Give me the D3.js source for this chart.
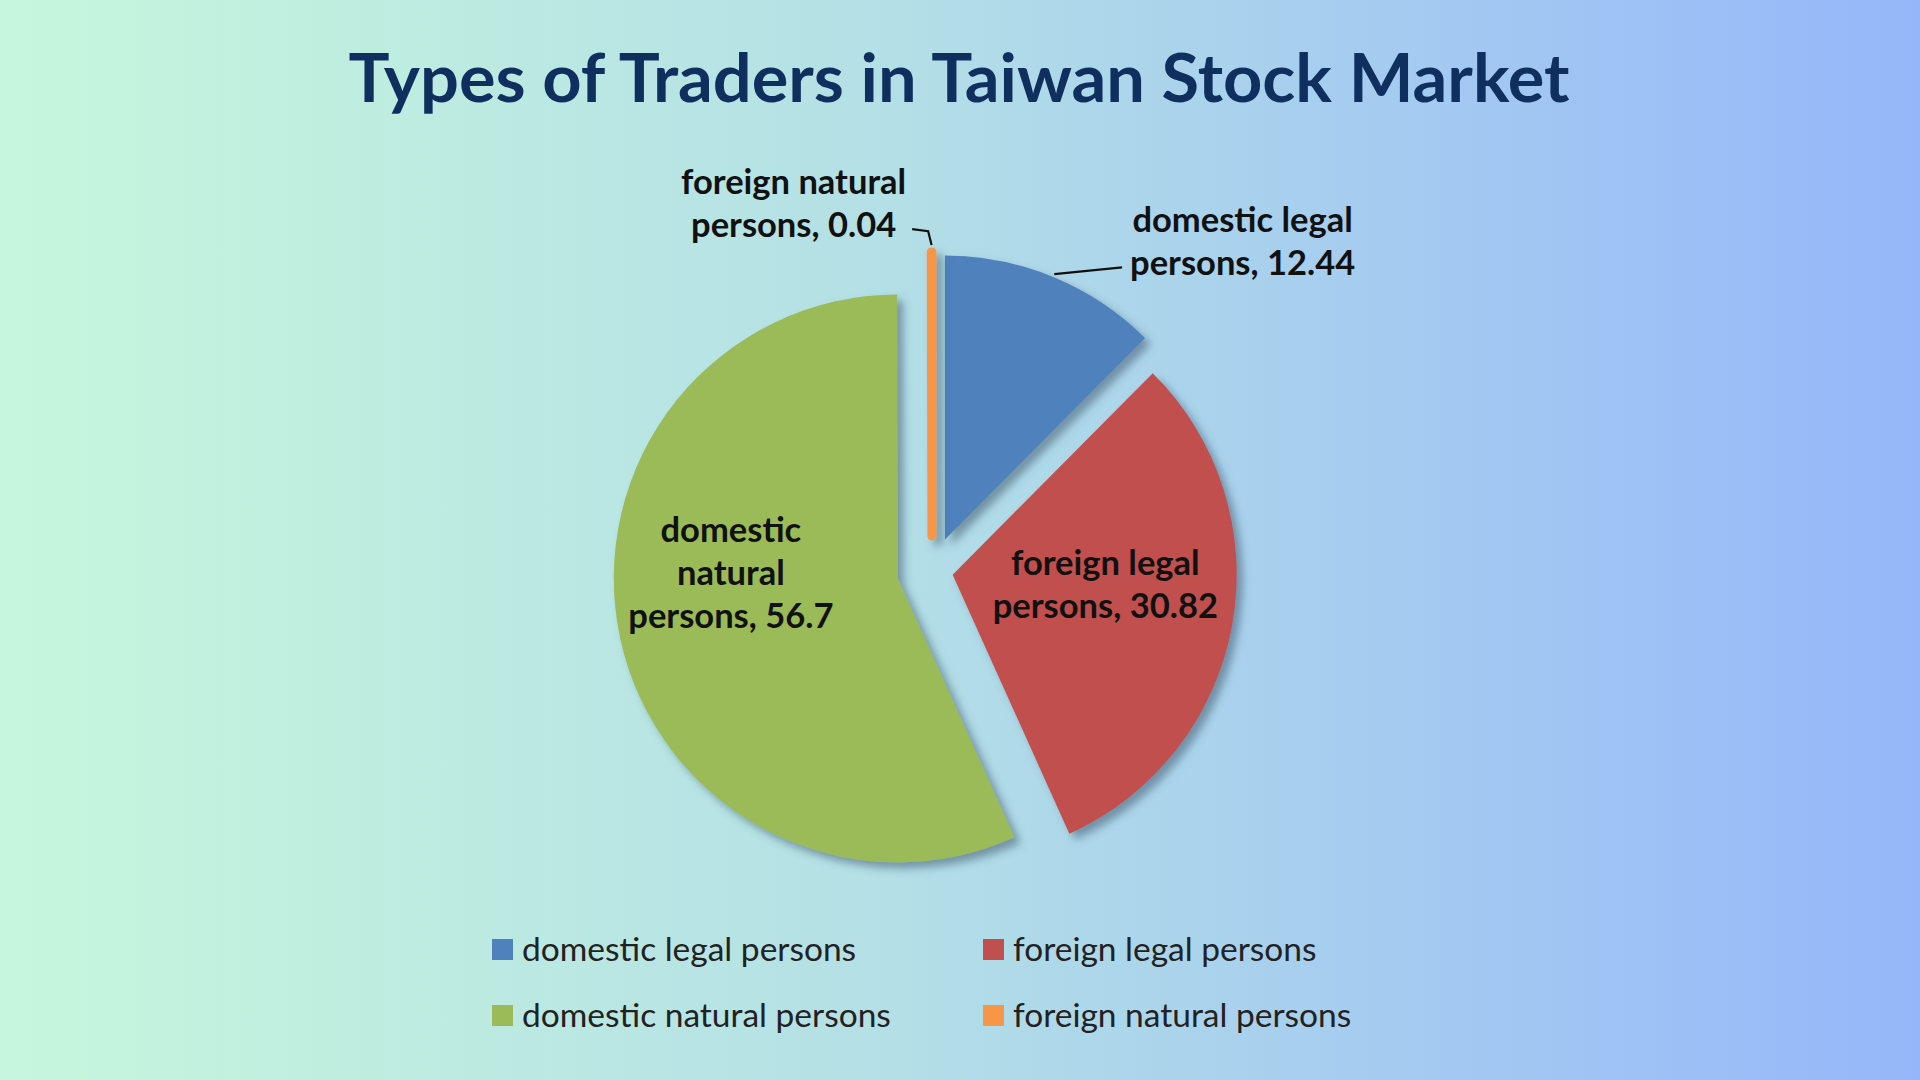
<!DOCTYPE html>
<html>
<head>
<meta charset="utf-8">
<script src="https://cdn.jsdelivr.net/npm/d3@7"></script>
<style>
  body { margin: 0; overflow: hidden; }
  svg { display: block; }
</style>
</head>
<body>
<svg id="chart" width="1920" height="1080"></svg>
<script>
// data
const categories = ['domestic legal persons', 'foreign legal persons', 'domestic natural persons', 'foreign natural persons'];
const values = [12.44, 30.82, 56.7, 0.04];
const titleText = 'Types of Traders in Taiwan Stock Market';

// styles
const colors = ['#4F81BD', '#C0504D', '#9BBB59', '#F79646'];
const explode = [34, 21, 35, 35];
const labelFont = 'Lato, "Open Sans", sans-serif';
const labelSize = 34.5;

const W = 1920, H = 1080;
const cx = 932, cy = 571, R = 284;

const svg = d3.select('#chart');
const defs = svg.append('defs');

let bg = defs.append('linearGradient').attr('id', 'bg')
  .attr('x1', '0%').attr('x2', '100%').attr('y1', '0%').attr('y2', '0%');
bg.append('stop').attr('offset', '0%').attr('stop-color', '#C6F7DC');
bg.append('stop').attr('offset', '45%').attr('stop-color', '#B4E0E6');
bg.append('stop').attr('offset', '100%').attr('stop-color', '#95B7FA');

// big user-space region so the thin slice is not clipped
let shadow = defs.append('filter').attr('id', 'shadow')
  .attr('filterUnits', 'userSpaceOnUse')
  .attr('x', -1200).attr('y', -1200).attr('width', 2400).attr('height', 2400);
shadow.append('feDropShadow').attr('dx', 6).attr('dy', 6).attr('stdDeviation', 4)
  .attr('flood-color', '#3d5a6e').attr('flood-opacity', 0.55);

svg.append('rect').attr('width', W).attr('height', H).attr('fill', 'url(#bg)');

// title
svg.append('text')
  .attr('x', 959).attr('y', 102)
  .attr('text-anchor', 'middle')
  .attr('font-family', labelFont)
  .attr('font-weight', 'bold')
  .attr('font-size', 66)
  .attr('fill', '#0F2F5E')
  .attr('textLength', 1221)
  .attr('lengthAdjust', 'spacingAndGlyphs')
  .text(titleText);

// pie
let pie = d3.pie().sort(null).value(d => d);
let arcs = pie(values);
let arc = d3.arc().innerRadius(0).outerRadius(R);

function mid(d) { return (d.startAngle + d.endAngle) / 2; }
function sliceCenter(d, i) {
  let a = mid(d);
  return [cx + explode[i] * Math.sin(a), cy - explode[i] * Math.cos(a)];
}

let slices = svg.append('g').selectAll('g.slice')
  .data(arcs).enter()
  .append('g')
  .attr('class', 'slice')
  .attr('transform', (d, i) => 'translate(' + sliceCenter(d, i) + ')')
  .attr('filter', 'url(#shadow)');

slices.append('path')
  .attr('d', arc)
  .attr('fill', (d, i) => colors[i])
  .attr('stroke', (d, i) => colors[i])
  .attr('stroke-width', d => (d.value < 1 ? 9 : 0))
  .attr('stroke-linejoin', 'round');

// data labels: angle (deg, clockwise from top) and distance from slice centre
const labelSpots = [
  { ang: 45, dist: 421, wrap: 280, inside: false },
  { ang: 93.7, dist: 153, wrap: 280, inside: true },
  { ang: 272, dist: 167, wrap: 240, inside: true },
  { ang: 337.4, dist: 360, wrap: 280, inside: false }
];
const lineH = 43;

function wrapLines(words, maxW) {
  let probe = svg.append('text').attr('font-family', labelFont)
    .attr('font-weight', 'bold').attr('font-size', labelSize);
  let lines = [], cur = '';
  words.forEach(w => {
    let test = cur ? cur + ' ' + w : w;
    probe.text(test);
    if (cur && probe.node().getComputedTextLength() > maxW) {
      lines.push(cur);
      cur = w;
    } else cur = test;
  });
  lines.push(cur);
  probe.remove();
  return lines;
}

let labelG = svg.append('g');
arcs.forEach((d, i) => {
  let spot = labelSpots[i];
  let sc = sliceCenter(d, i);
  let a = spot.ang * Math.PI / 180;
  let lx = sc[0] + spot.dist * Math.sin(a);
  let ly = sc[1] - spot.dist * Math.cos(a);
  let words = (categories[i] + ', ' + values[i]).split(' ');
  let lines = wrapLines(words, spot.wrap);
  let top = ly - (lines.length - 1) * lineH / 2;
  let t = labelG.append('text')
    .attr('text-anchor', 'middle')
    .attr('font-family', labelFont)
    .attr('font-weight', 'bold')
    .attr('font-size', labelSize)
    .attr('fill', '#111');
  lines.forEach((ln, k) => {
    t.append('tspan').attr('x', lx).attr('y', top + k * lineH).attr('dy', '0.35em').text(ln);
  });

  if (!spot.inside) {
    let box = t.node().getBBox();
    let m = mid(d);
    let p0 = [sc[0] + (R + 3) * Math.sin(m), sc[1] - (R + 3) * Math.cos(m)];
    let yEnd = top + (lines.length - 1) * lineH + 4;
    let pts;
    if (lx > p0[0]) {
      let xEnd = box.x - 8;
      pts = [p0, [xEnd, yEnd]];
    } else {
      let xEnd = box.x + box.width + 6;
      pts = [[p0[0], p0[1] - 4], [xEnd + 16, yEnd + 2], [xEnd, yEnd]];
    }
    labelG.append('path')
      .attr('d', d3.line()(pts))
      .attr('fill', 'none')
      .attr('stroke', '#111')
      .attr('stroke-width', 2.2);
  }
});

// legend
const legendCols = [492, 983], legendRows = [949, 1015];
let legend = svg.append('g').selectAll('g.item')
  .data(categories).enter()
  .append('g')
  .attr('class', 'item')
  .attr('transform', (d, i) => 'translate(' + legendCols[i % 2] + ',' + legendRows[Math.floor(i / 2)] + ')');

legend.append('rect')
  .attr('x', 0).attr('y', -10).attr('width', 21).attr('height', 21)
  .attr('fill', (d, i) => colors[i]);

legend.append('text')
  .attr('x', 30).attr('y', 0).attr('dy', '0.35em')
  .attr('font-family', labelFont)
  .attr('font-size', 33.5)
  .attr('fill', '#222')
  .text(d => d);
</script>
</body>
</html>
